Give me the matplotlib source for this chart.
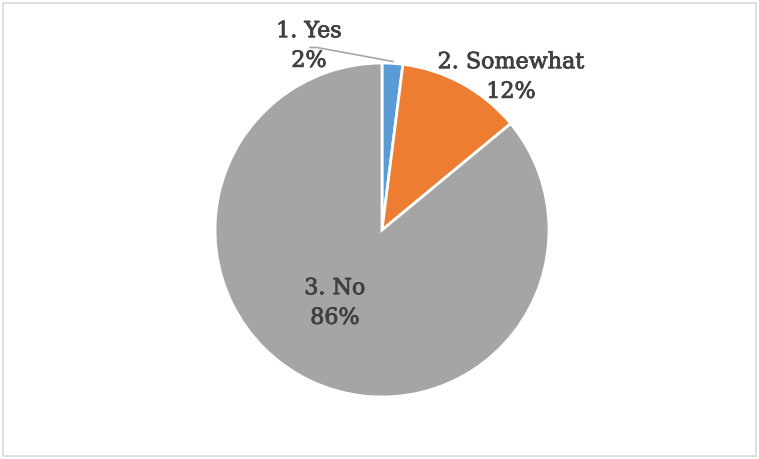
import matplotlib
matplotlib.use("Agg")
import matplotlib.pyplot as plt
import matplotlib.patheffects as pe
from matplotlib.patches import Rectangle

categories = ["1. Yes", "2. Somewhat", "3. No"]
values = [2, 12, 86]
colors = ["#5b9bd5", "#ed7d31", "#a5a5a5"]

W, H = 759, 459
fig = plt.figure(figsize=(W / 100, H / 100), dpi=100)
fig.patch.set_facecolor("white")

# outer chart frame
fig.add_artist(Rectangle((0.004, 0.006), 0.992, 0.988, transform=fig.transFigure,
                         fill=False, edgecolor="#d9d9d9", linewidth=1.2))

cx, cy, r = 382, 230, 167
ax = fig.add_axes([(cx - r) / W, 1 - (cy + r) / H, 2 * r / W, 2 * r / H])
ax.set_xlim(-1, 1)
ax.set_ylim(-1, 1)
ax.set_aspect("equal")
ax.axis("off")

wedges, _ = ax.pie(values, colors=colors, startangle=90, counterclock=False,
                   radius=1, center=(0, 0),
                   wedgeprops=dict(edgecolor="white", linewidth=2))
ax.set_xlim(-1, 1)
ax.set_ylim(-1, 1)

text_color = "#404040"
font = dict(family="DejaVu Serif", fontsize=16, color=text_color,
            ha="center", va="center", linespacing=1.45,
            path_effects=[pe.withStroke(linewidth=0.6, foreground=text_color)])

def to_ax(px, py):
    return (px - cx) / r, (cy - py) / r

labels = [f"{c}\n{v}%" for c, v in zip(categories, values)]
positions = [(309, 46), (511, 77), (335, 303)]
for lab, (px, py) in zip(labels, positions):
    ax.text(*to_ax(px, py), lab, clip_on=False, **font)

# leader line for the small slice
lx = [310, 317, 393]
ly = [47.5, 47.5, 61.5]
ax.plot([to_ax(x, y)[0] for x, y in zip(lx, ly)],
        [to_ax(x, y)[1] for x, y in zip(lx, ly)],
        color="#a6a6a6", linewidth=1.2, clip_on=False)

fig.savefig("out.png", dpi=100, facecolor="white")
